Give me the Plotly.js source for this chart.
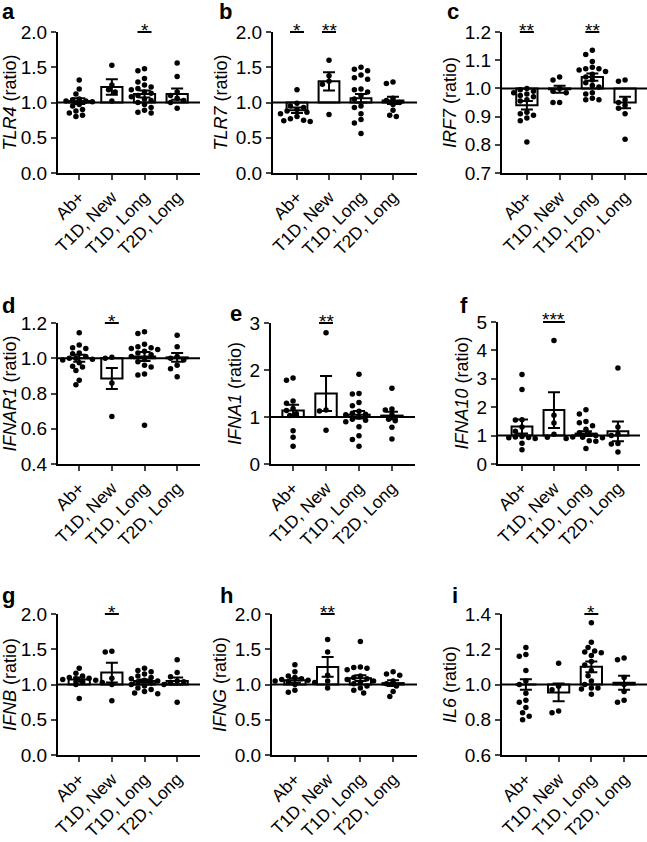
<!DOCTYPE html>
<html><head><meta charset="utf-8">
<script src="https://cdn.plot.ly/plotly-3.0.1.min.js"></script>
<style>html,body{margin:0;padding:0;background:#fff}#chart{width:647px;height:842px}</style>
</head><body><div id="chart"></div>
<script>
const categories = ['Ab+', 'T1D, New', 'T1D, Long', 'T2D, Long'];

// a: TLR4
const tlr4Means = [1.02, 1.22, 1.12, 1.12];
const tlr4Sems = [0.04, 0.11, 0.05, 0.08];
const tlr4Points = [
  [1.32,1.19,1.12,1.05,1.04,1.02,1.02,1.01,0.97,0.95,0.90,0.88,0.85,0.82,0.80],
  [1.53,1.25,1.18,1.15,1.02],
  [1.48,1.45,1.34,1.29,1.25,1.22,1.20,1.18,1.15,1.13,1.10,1.08,1.05,1.03,1.00,0.97,0.93,0.89,0.86,0.85],
  [1.56,1.37,1.15,1.10,1.06,1.03,1.00,0.92]];
const tlr4Stars = ['', '', '*', ''];

// b: TLR7
const tlr7Means = [0.89, 1.30, 1.06, 1.03];
const tlr7Sems = [0.04, 0.13, 0.06, 0.05];
const tlr7Points = [
  [1.18,0.99,0.95,0.93,0.90,0.88,0.86,0.84,0.80,0.77,0.75,0.74,0.73],
  [1.60,1.38,1.30,1.26,0.83],
  [1.50,1.47,1.45,1.39,1.35,1.33,1.19,1.18,1.15,1.10,1.05,0.95,0.93,0.84,0.76,0.71,0.56],
  [1.29,1.27,1.06,1.03,1.00,0.97,0.89,0.82,0.80]];
const tlr7Stars = ['*', '**', '', ''];

// c: IRF7
const irf7Means = [0.94, 0.997, 1.04, 0.95];
const irf7Sems = [0.015, 0.012, 0.013, 0.02];
const irf7Points = [
  [1.00,0.995,0.99,0.985,0.98,0.975,0.97,0.96,0.955,0.915,0.91,0.905,0.895,0.885,0.81],
  [1.04,1.03,1.00,0.99,0.985,0.95,0.95],
  [1.135,1.12,1.095,1.075,1.07,1.07,1.065,1.06,1.05,1.04,1.03,1.02,1.01,1.005,0.985,0.98,0.965,0.96,0.96],
  [1.03,1.025,0.96,0.95,0.94,0.93,0.91,0.82]];
const irf7Stars = ['**', '', '**', ''];

// d: IFNAR1
const ifnar1Means = [1.0, 0.885, 1.01, 1.005];
const ifnar1Sems = [0.02, 0.06, 0.025, 0.025];
const ifnar1Points = [
  [1.145,1.075,1.06,1.055,1.03,1.025,1.01,1.0,1.0,0.995,0.99,0.975,0.955,0.95,0.93,0.875,0.85],
  [1.005,1.0,0.86,0.67],
  [1.15,1.14,1.08,1.065,1.06,1.055,1.05,1.04,1.03,1.02,1.01,1.0,0.98,0.96,0.95,0.91,0.905,0.62],
  [1.13,1.065,1.01,1.0,0.99,0.96,0.94,0.895]];
const ifnar1Stars = ['', '*', '', ''];

// e: IFNA1
const ifna1Means = [1.14, 1.50, 1.05, 1.03];
const ifna1Sems = [0.12, 0.37, 0.08, 0.08];
const ifna1Points = [
  [1.83,1.78,1.34,1.29,1.18,1.14,1.07,1.03,0.71,0.57,0.38],
  [2.79,1.15,1.13,0.72],
  [1.91,1.50,1.49,1.31,1.24,1.12,1.08,1.06,1.05,1.0,0.95,0.93,0.90,0.79,0.60,0.52,0.38],
  [1.61,1.17,1.15,1.05,0.95,0.92,0.78,0.53]];
const ifna1Stars = ['', '**', '', ''];

// f: IFNA10
const ifna10Means = [1.32, 1.90, 1.07, 1.15];
const ifna10Sems = [0.25, 0.63, 0.08, 0.35];
const ifna10Points = [
  [3.15,2.62,1.56,1.55,1.30,1.15,0.97,0.95,0.93,0.92,0.90,0.73,0.50],
  [4.35,1.72,1.44,1.05,0.94],
  [1.91,1.76,1.50,1.45,1.35,1.22,1.10,1.05,1.0,0.95,0.94,0.92,0.90,0.82,0.80,0.55],
  [3.38,1.30,1.06,1.0,0.72,0.70,0.42]];
const ifna10Stars = ['', '***', '', ''];

// g: IFNB
const ifnbMeans = [1.07, 1.17, 1.05, 1.05];
const ifnbSems = [0.03, 0.14, 0.02, 0.05];
const ifnbPoints = [
  [1.23,1.16,1.12,1.10,1.09,1.08,1.07,1.06,1.05,1.04,1.03,1.0,0.80],
  [1.47,1.46,1.09,1.0,0.77],
  [1.23,1.20,1.18,1.15,1.12,1.10,1.08,1.06,1.05,1.04,1.02,1.0,0.98,0.95,0.93,0.90,0.88,0.87],
  [1.35,1.17,1.11,1.05,1.04,1.02,1.0,0.75]];
const ifnbStars = ['', '*', '', ''];

// h: IFNG
const ifngMeans = [1.06, 1.25, 1.09, 1.02];
const ifngSems = [0.03, 0.14, 0.04, 0.04];
const ifngPoints = [
  [1.28,1.18,1.12,1.10,1.08,1.07,1.06,1.05,1.04,1.03,1.0,0.92,0.89],
  [1.64,1.46,1.13,1.05,0.95],
  [1.61,1.25,1.24,1.23,1.21,1.12,1.10,1.08,1.07,1.05,1.03,1.01,0.98,0.95,0.92,0.88],
  [1.18,1.15,1.13,1.05,1.01,0.98,0.90,0.83]];
const ifngStars = ['', '**', '', ''];

// i: IL6
const il6Means = [1.0, 0.955, 1.10, 1.01];
const il6Sems = [0.03, 0.05, 0.03, 0.04];
const il6Points = [
  [1.21,1.17,1.16,1.08,1.02,1.0,0.95,0.91,0.90,0.87,0.84,0.82,0.80],
  [1.12,0.99,0.97,0.85,0.84],
  [1.35,1.24,1.21,1.19,1.185,1.18,1.165,1.13,1.11,1.08,1.05,1.02,1.0,0.98,0.98,0.975,0.945],
  [1.15,1.14,1.04,1.0,0.96,0.91,0.90]];
const il6Stars = ['', '', '*', ''];

const baseline = 1; // ratio baseline the bars grow from

const W = 647, H = 842;
const FONT = 'Liberation Sans, Arial, Helvetica, sans-serif';

const panels = [
  {letter:'a', gene:'TLR4', means:tlr4Means, sems:tlr4Sems, points:tlr4Points, stars:tlr4Stars, yr:[0,2], dt:0.5, fmt:'.1f', px:[58,200], py:[32,173], xr:[-0.65,3.7], lp:[0,18]},
  {letter:'b', gene:'TLR7', means:tlr7Means, sems:tlr7Sems, points:tlr7Points, stars:tlr7Stars, yr:[0,2], dt:0.5, fmt:'.1f', px:[273,417], py:[32,173], xr:[-0.75,3.75], lp:[217,18]},
  {letter:'c', gene:'IRF7', means:irf7Means, sems:irf7Sems, points:irf7Points, stars:irf7Stars, yr:[0.7,1.2], dt:0.1, fmt:'.1f', px:[502,647], py:[32,173], xr:[-0.76,3.67], lp:[445,18]},
  {letter:'d', gene:'IFNAR1', means:ifnar1Means, sems:ifnar1Sems, points:ifnar1Points, stars:ifnar1Stars, yr:[0.4,1.2], dt:0.2, fmt:'.1f', px:[58,200], py:[323,464], xr:[-0.65,3.7], lp:[0,312]},
  {letter:'e', gene:'IFNA1', means:ifna1Means, sems:ifna1Sems, points:ifna1Points, stars:ifna1Stars, yr:[0,3], dt:1, fmt:'d', px:[271,415], py:[323,464], xr:[-0.67,3.7], lp:[228,320]},
  {letter:'f', gene:'IFNA10', means:ifna10Means, sems:ifna10Sems, points:ifna10Points, stars:ifna10Stars, yr:[0,5], dt:1, fmt:'d', px:[498,640], py:[322,464], xr:[-0.75,3.69], lp:[458,312]},
  {letter:'g', gene:'IFNB', means:ifnbMeans, sems:ifnbSems, points:ifnbPoints, stars:ifnbStars, yr:[0,2], dt:0.5, fmt:'.1f', px:[58,200], py:[614,755], xr:[-0.65,3.7], lp:[0,602]},
  {letter:'h', gene:'IFNG', means:ifngMeans, sems:ifngSems, points:ifngPoints, stars:ifngStars, yr:[0,2], dt:0.5, fmt:'.1f', px:[272,417], py:[614,755], xr:[-0.70,3.73], lp:[218,602]},
  {letter:'i', gene:'IL6', means:il6Means, sems:il6Sems, points:il6Points, stars:il6Stars, yr:[0.6,1.4], dt:0.2, fmt:'.1f', px:[502,647], py:[614,755], xr:[-0.73,3.70], lp:[450,602]}
];

// simple beeswarm: horizontal offsets so dots don't overlap
function swarm(vals, pxX, pxY, d) {
  const order = vals.map((v, i) => i).sort((a, b) => vals[b] - vals[a]);
  const placed = [];
  const off = new Array(vals.length).fill(0);
  order.forEach(i => {
    const yp = vals[i] * pxY;
    for (let k = 0; k < 60; k++) {
      const s = k === 0 ? 0 : (k % 2 ? -Math.ceil(k / 2) : Math.ceil(k / 2));
      const xp = s * d * 0.6;
      const ok = placed.every(p => Math.hypot(p[0] - xp, p[1] - yp) >= d);
      if (ok) { placed.push([xp, yp]); off[i] = xp / pxX; break; }
    }
  });
  return off;
}

const traces = [];
const layout = {
  width: W, height: H, margin: {l:0, r:0, t:0, b:0},
  paper_bgcolor: '#fff', plot_bgcolor: '#fff', showlegend: false,
  font: {family: FONT, color: '#000', size: 18},
  annotations: [], shapes: []
};

panels.forEach((p, k) => {
  const n = k + 1;
  const xa = n === 1 ? 'x' : 'x' + n;
  const ya = n === 1 ? 'y' : 'y' + n;
  const xKey = n === 1 ? 'xaxis' : 'xaxis' + n;
  const yKey = n === 1 ? 'yaxis' : 'yaxis' + n;
  const idx = categories.map((c, i) => i);

  layout[xKey] = {
    domain: [p.px[0] / W, p.px[1] / W], anchor: ya, range: p.xr,
    tickvals: idx, ticktext: categories, tickangle: -45,
    showline: true, linewidth: 2, linecolor: '#000', ticks: 'outside', ticklen: 5, tickwidth: 2,
    showgrid: false, zeroline: false, tickfont: {size: 17.5, family: FONT}, fixedrange: true
  };
  layout[yKey] = {
    domain: [1 - p.py[1] / H, 1 - p.py[0] / H], anchor: xa, range: p.yr, dtick: p.dt, tick0: p.yr[0],
    tickformat: p.fmt, showline: true, linewidth: 2, linecolor: '#000', ticks: 'outside', ticklen: 5, tickwidth: 2,
    showgrid: false, zeroline: false, tickfont: {size: 19, family: FONT}, fixedrange: true,
    title: {text: '<i>' + p.gene + '</i> (ratio)', font: {size: 18, family: FONT}, standoff: 3}
  };

  // bars from the ratio baseline to the mean, with ± SEM
  traces.push({
    type: 'bar', x: idx, y: p.means.map(m => m - baseline), base: baseline, width: 0.65,
    xaxis: xa, yaxis: ya,
    marker: {color: '#fff', line: {color: '#000', width: 2}},
    error_y: {type: 'data', array: p.sems, visible: true, color: '#000', thickness: 2, width: 6},
    hoverinfo: 'skip'
  });
  // reference line at ratio 1
  traces.push({
    type: 'scatter', mode: 'lines', x: p.xr, y: [baseline, baseline], xaxis: xa, yaxis: ya,
    line: {color: '#000', width: 2}, hoverinfo: 'skip'
  });
  // individual points
  const pxX = (p.px[1] - p.px[0]) / (p.xr[1] - p.xr[0]);
  const pxY = (p.py[1] - p.py[0]) / (p.yr[1] - p.yr[0]);
  const xs = [], ys = [];
  p.points.forEach((vals, ci) => {
    const off = swarm(vals, pxX, pxY, 5.5);
    vals.forEach((v, j) => { xs.push(ci + off[j]); ys.push(v); });
  });
  traces.push({
    type: 'scatter', mode: 'markers', x: xs, y: ys, xaxis: xa, yaxis: ya,
    marker: {color: '#000', size: 5.5}, cliponaxis: false, hoverinfo: 'skip'
  });

  // significance stars with underline
  p.stars.forEach((s, ci) => {
    if (!s) return;
    layout.annotations.push({
      xref: xa, yref: ya + ' domain', x: ci, y: 1, yshift: 2, text: s, showarrow: false,
      xanchor: 'center', yanchor: 'middle', font: {size: 19, family: FONT}
    });
    const hw = (s.length === 3 ? 11 : 7) / pxX;
    const span = p.xr[1] - p.xr[0];
    layout.shapes.push({
      type: 'line', xref: xa + ' domain', yref: ya + ' domain',
      x0: (ci - hw - p.xr[0]) / span, x1: (ci + hw - p.xr[0]) / span, y0: 1, y1: 1,
      line: {color: '#000', width: 2}
    });
  });

  // panel letter
  layout.annotations.push({
    xref: 'paper', yref: 'paper', x: p.lp[0] / W, y: 1 - (p.lp[1] - 7) / H,
    text: '<b>' + p.letter + '</b>', showarrow: false, xanchor: 'left', yanchor: 'middle',
    font: {size: 22, family: FONT}
  });
});

Plotly.newPlot('chart', traces, layout, {displayModeBar: false, staticPlot: true});
</script>
</body></html>
